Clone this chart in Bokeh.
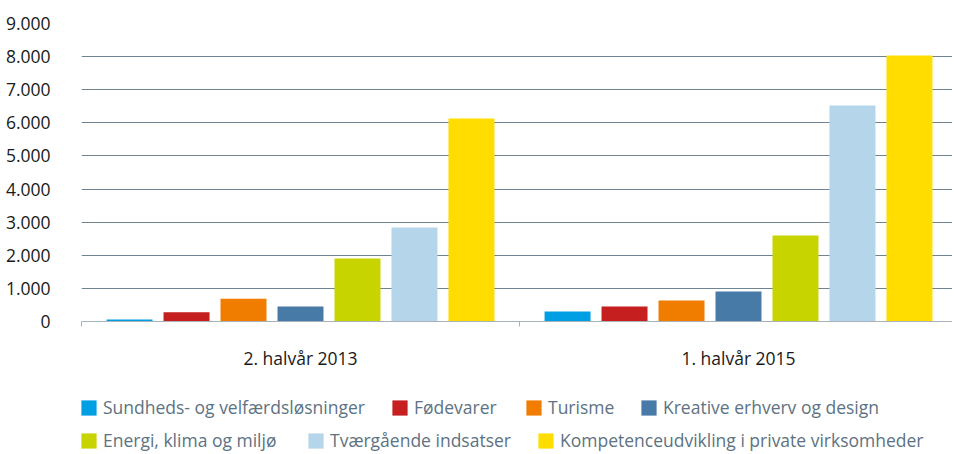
from bokeh.plotting import figure
from bokeh.layouts import column
from bokeh.models import Range1d, FixedTicker, Legend, LegendItem
from bokeh.embed import file_html
from bokeh.resources import INLINE

groups = ["2. halvår 2013", "1. halvår 2015"]
series = [
    "Sundheds- og velfærdsløsninger",
    "Fødevarer",
    "Turisme",
    "Kreative erhverv og design",
    "Energi, klima og miljø",
    "Tværgående indsatser",
    "Kompetenceudvikling i private virksomheder",
]
colors = ["#009fe3", "#c61f1f", "#f07d00", "#487aa8", "#c8d400", "#b5d6ea", "#ffdd00"]
values_2013 = [60, 280, 690, 450, 1900, 2840, 6130]
values_2015 = [300, 450, 635, 905, 2600, 6525, 8035]
y_ticks = [0, 1000, 2000, 3000, 4000, 5000, 6000, 7000, 8000, 9000]
y_tick_labels = ["0", "1.000", "2.000", "3.000", "4.000", "5.000", "6.000", "7.000", "8.000", "9.000"]

FONT = "Open Sans"
FS = "17.5px"
W = 952
H_MAIN = 372
H_LEG = 80
LEFT = 81
TOP = 23
FRAME_BOTTOM = 321
group_px = 438.0
x_end = (W - LEFT) / group_px
step = 0.1301
bar_w = 0.105

p = figure(width=W, height=H_MAIN, output_backend="svg", toolbar_location=None,
           x_range=Range1d(0, x_end), y_range=Range1d(0, 9000),
           min_border_left=LEFT, min_border_right=0, min_border_top=TOP,
           min_border_bottom=H_MAIN - FRAME_BOTTOM)
p.outline_line_color = None
p.background_fill_color = "white"
p.border_fill_color = "white"

renderers = []
for i, name in enumerate(series):
    xs = [g + 0.5 + (i - 3) * step for g in range(len(groups))]
    tops = [values_2013[i], values_2015[i]]
    r = p.vbar(x=xs, top=tops, width=bar_w, bottom=0, fill_color=colors[i], line_color=None)
    renderers.append(r)

# y axis
p.yaxis.ticker = FixedTicker(ticks=y_ticks)
p.yaxis.major_label_overrides = {t: l for t, l in zip(y_ticks, y_tick_labels)}
p.yaxis.axis_line_color = None
p.yaxis.major_tick_line_color = None
p.yaxis.minor_tick_line_color = None
p.yaxis.major_tick_out = 0
p.yaxis.major_label_standoff = 31
p.yaxis.major_label_text_font = FONT
p.yaxis.major_label_text_font_size = FS
p.yaxis.major_label_text_color = "#1a1a1a"

# x axis
p.xaxis.ticker = FixedTicker(ticks=[0.5, 1.5], minor_ticks=[0, 1, 2])
p.xaxis.major_label_overrides = {0.5: groups[0], 1.5: groups[1]}
p.xaxis.major_tick_line_color = None
p.xaxis.major_tick_out = 0
p.xaxis.major_tick_in = 0
p.xaxis.minor_tick_line_color = "#a9b1b9"
p.xaxis.minor_tick_out = 5
p.xaxis.minor_tick_in = 0
p.xaxis.axis_line_color = "#a9b1b9"
p.xaxis.major_label_standoff = 19
p.xaxis.major_label_text_font = FONT
p.xaxis.major_label_text_font_size = FS
p.xaxis.major_label_text_color = "#1a1a1a"

p.xgrid.grid_line_color = None
p.ygrid.ticker = FixedTicker(ticks=y_ticks[1:])
p.ygrid.grid_line_color = "#6f8391"
p.ygrid.grid_line_width = 1

# legend figure (its frame is aligned with the chart frame by the column layout)
q = figure(width=W, height=H_LEG, output_backend="svg", toolbar_location=None,
           x_range=Range1d(0, 1), y_range=Range1d(0, 1),
           x_axis_location=None, y_axis_location=None,
           min_border=0)
q.outline_line_color = None
q.xgrid.grid_line_color = None
q.ygrid.grid_line_color = None

# legend swatches: renderers placed outside the visible range, shown only in the legend
leg_renderers = []
for i, name in enumerate(series):
    leg_renderers.append(q.vbar(x=[5], top=[1], width=0.1, fill_color=colors[i], line_color=None))

legend_x = [-2, 309, 443, 558, -2, 225, 455]
legend_y = [33, 33, 33, 33, 0, 0, 0]
for k in range(len(series)):
    q.add_layout(Legend(
        items=[LegendItem(label=series[k], renderers=[leg_renderers[k]])],
        orientation="horizontal", location=(legend_x[k], legend_y[k]),
        border_line_color=None, background_fill_alpha=0,
        padding=0, margin=0, spacing=0, label_standoff=5,
        glyph_width=19, glyph_height=19, label_height=19,
        label_text_font=FONT, label_text_font_size=FS,
        label_text_color="#5d7282"))

open("out.html", "w").write(file_html(column(p, q, spacing=0), INLINE))
